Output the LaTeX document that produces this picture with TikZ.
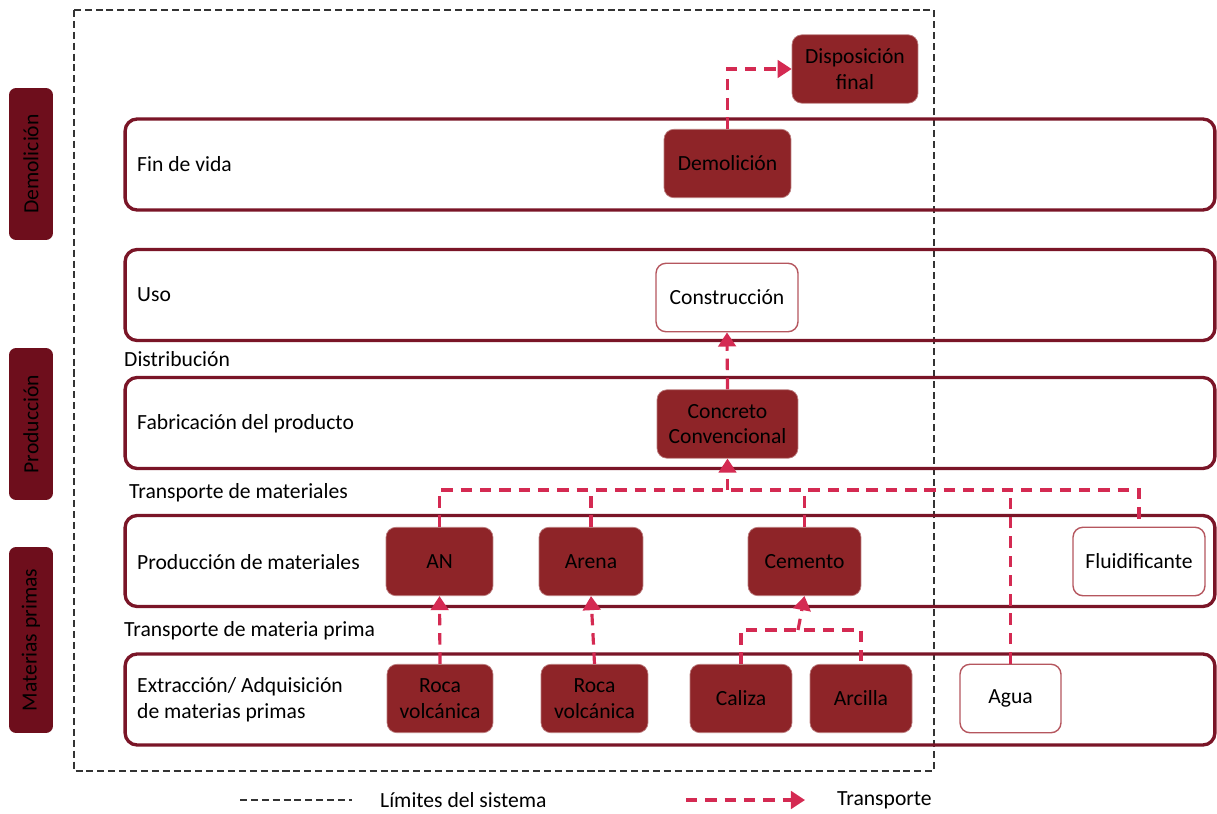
\documentclass[tikz,border=0pt]{standalone}
\usepackage{fontspec}
\setmainfont{Carlito}
\usepackage{xcolor}
\usetikzlibrary{arrows.meta, positioning}
\definecolor{vino}{HTML}{8E2428}
\definecolor{vinobar}{HTML}{6E0E1C}
\definecolor{vinoline}{HTML}{7A1527}
\definecolor{rosa}{HTML}{B5565E}
\definecolor{transp}{HTML}{D42A52}

\begin{document}
\begin{tikzpicture}[
    x=0.02cm, y=-0.02cm,
    font=\fontsize{12.3}{14.5}\selectfont,
    etapa/.style={draw=vinoline, line width=1.9pt, rectangle, rounded corners=0.24cm, minimum width=21.8cm, minimum height=1.82cm},
    fase/.style={fill=vinobar, rectangle, rounded corners=0.14cm, minimum height=0.88cm, rotate=90},
    proc/.style={fill=vino, draw=vino!60!white, rectangle, rounded corners=0.2cm, minimum height=1.37cm, align=center},
    libre/.style={draw=rosa, line width=0.8pt, fill=white, rectangle, rounded corners=0.2cm, minimum height=1.37cm, align=center},
    rotulo/.style={anchor=west, align=left},
    flujo/.style={draw=transp, line width=1.8pt, dash pattern=on 6.5pt off 4.5pt},
    flecha/.style={flujo, -{Triangle[length=8pt, width=10pt]}},
    limite/.style={draw=black!80, line width=0.6pt, dash pattern=on 4pt off 2.2pt}
]
    \useasboundingbox (0,0) rectangle (1217,814);

    \draw[limite] (74,10) rectangle (934,771);

    \node[fase, minimum width=3.04cm] (bdem) at (31,164) {Demolición};
    \node[fase, minimum width=3.04cm] (bpro) at (31,424) {Producción};
    \node[fase, minimum width=3.72cm] (bmat) at (31,640) {Materias primas};

    \node[etapa] (fin) at (670,164.5) {};
    \node[etapa] (uso) at (670,295) {};
    \node[etapa] (fab) at (670,423) {};
    \node[etapa] (pmat) at (670,561) {};
    \node[etapa] (ext) at (670,699.5) {};

    \node[rotulo] (tfin) at (131,164.5) {Fin de vida};
    \node[rotulo] (tuso) at (131,295) {Uso};
    \node[rotulo] (tfab) at (131,424) {Fabricación del producto};
    \node[rotulo] (tpmat) at (131,562) {Producción de materiales};
    \node[rotulo] (text) at (131,699.5) {Extracción/ Adquisición\\de materias primas};

    \node[rotulo] (tdist) at (118,359) {Distribución};
    \node[rotulo] (ttmat) at (123,493) {Transporte de materiales};
    \node[rotulo] (ttmp) at (118,631) {Transporte de materia prima};

    \node[proc, minimum width=2.52cm] (dispo) at (855,69) {Disposición\\final};
    \node[proc, minimum width=2.54cm] (demol) at (727.5,163.5) {Demolición};
    \node[libre, minimum width=2.84cm] (constr) at (727,297.5) {Construcción};
    \node[proc, minimum width=2.82cm] (concreto) at (727.5,424) {Concreto\\Convencional};

    \node[proc, minimum width=2.14cm] (an) at (439.5,561.5) {AN};
    \node[proc, minimum width=2.08cm] (arena) at (591,561.5) {Arena};
    \node[proc, minimum width=2.26cm] (cemento) at (804.5,561.5) {Cemento};
    \node[libre, minimum width=2.64cm] (fluid) at (1139,561.5) {Fluidificante};

    \node[proc, minimum width=2.12cm] (roca1) at (440,698.5) {Roca\\volcánica};
    \node[proc, minimum width=2.14cm] (roca2) at (594.5,698.5) {Roca\\volcánica};
    \node[proc, minimum width=2.04cm] (caliza) at (741,698.5) {Caliza};
    \node[proc, minimum width=2.04cm] (arcilla) at (861,698.5) {Arcilla};
    \node[libre, minimum width=2.02cm] (agua) at (1010.5,698.5) {Agua};

    \coordinate (tmat) at (727.5,490);
    \coordinate (tmp) at (798,630);

    \draw[flecha] (demol.north) |- (dispo.west);
    \draw[flecha] (concreto.north) -- (constr.south);

    \draw[flujo] (an.north) |- (fluid.north |- tmat) -- (fluid.north);
    \draw[flujo] (arena.north) -- (arena.north |- tmat);
    \draw[flujo] (cemento.north) -- (cemento.north |- tmat);
    \draw[flujo] (agua.north) -- (agua.north |- tmat);
    \draw[flecha] (tmat) -- (concreto.south);

    \draw[flecha] (roca1.north) -- (an.south);
    \draw[flecha] (roca2.north) -- (arena.south);
    \draw[flujo] (caliza.north) |- (arcilla.north |- tmp) -- (arcilla.north);
    \draw[flecha] (tmp) -- (cemento.south);

    \coordinate (l1a) at (240,800);
    \coordinate (l1b) at (352,800);
    \coordinate (l2a) at (686,800);
    \coordinate (l2b) at (805,800);
    \draw[limite] (l1a) -- (l1b);
    \node[rotulo] (tlim) at (374,800) {Límites del sistema};
    \draw[flecha] (l2a) -- (l2b);
    \node[rotulo] (ttra) at (831,800) {Transporte};
\end{tikzpicture}
\end{document}
